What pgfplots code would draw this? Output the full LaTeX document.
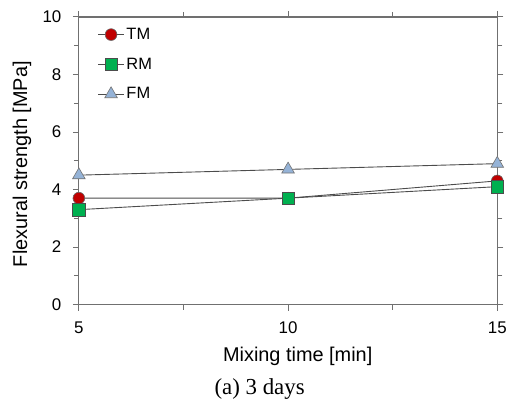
\documentclass[border=0pt]{standalone}
\usepackage{pgfplots}
\pgfplotsset{compat=1.18}
\usepackage{fontspec}
\setmainfont{Liberation Sans}
\newfontfamily\capfont{Liberation Serif}

\definecolor{tmred}{HTML}{C00000}
\definecolor{rmgreen}{HTML}{00B050}
\definecolor{fmblue}{HTML}{95B3D7}
\definecolor{axgray}{HTML}{707070}

\begin{document}
\begin{tikzpicture}[x=1bp,y=1bp]
\begin{axis}[
    scale only axis,
    clip=false,
    width=419bp, height=288bp,
    xmin=5, xmax=15,
    ymin=0, ymax=10,
    xtick={5,10,15},
    minor xtick={7.5,12.5},
    ytick={0,2,4,6,8,10},
    minor ytick={1,3,5,7,9},
    tick align=outside,
    major tick length=6bp,
    minor tick length=5bp,
    axis line style={axgray, line width=1.2bp},
    every tick/.style={axgray, line width=1bp},
    tick label style={font=\fontsize{17}{19}\selectfont},
    xticklabel style={yshift=-8bp},
    yticklabel style={xshift=-8bp},
    /pgf/number format/assume math mode=true,
    xlabel={Mixing time [min]},
    ylabel={Flexural strength [MPa]},
    label style={font=\fontsize{20}{22}\selectfont},
    xlabel style={at={(axis description cs:0.523,-0.181)}, anchor=center},
    ylabel style={at={(axis description cs:-0.136,0.488)}, anchor=center},
    legend style={draw=none, fill=none, at={(axis description cs:0.042,0.972)}, anchor=north west,
        font=\fontsize{16.5}{18}\selectfont, row sep=13bp, inner xsep=1bp, inner ysep=1bp},
    legend cell align=left,
    legend image code/.code={
        \draw[mark repeat=2, mark phase=2, #1] plot coordinates {(0bp,0bp) (13bp,0bp) (26bp,0bp)};
    },
]
\path (rel axis cs:-0.1885,-0.354) rectangle (rel axis cs:1.0286,1.059);
\addplot[color=black!70, line width=0.9bp, mark=*, mark size=5.9bp,
    mark options={fill=tmred, draw=black!60, line width=0.6bp}]
    coordinates {(5,3.7) (10,3.7) (15,4.3)};
\addlegendentry{TM}
\addplot[color=black!70, line width=0.9bp, mark=square*, mark size=6.2bp,
    mark options={fill=rmgreen, draw=black!70, line width=0.6bp}]
    coordinates {(5,3.3) (10,3.7) (15,4.1)};
\addlegendentry{RM}
\addplot[color=black!70, line width=0.9bp, mark=triangle*, mark size=7.3bp,
    mark options={fill=fmblue, draw=black!55, line width=0.6bp}]
    coordinates {(5,4.5) (10,4.7) (15,4.9)};
\addlegendentry{FM}
\node[font=\capfont\fontsize{23}{26}\selectfont] at (axis description cs:0.432,-0.295) {(a) 3 days};
\end{axis}
\end{tikzpicture}
\end{document}
